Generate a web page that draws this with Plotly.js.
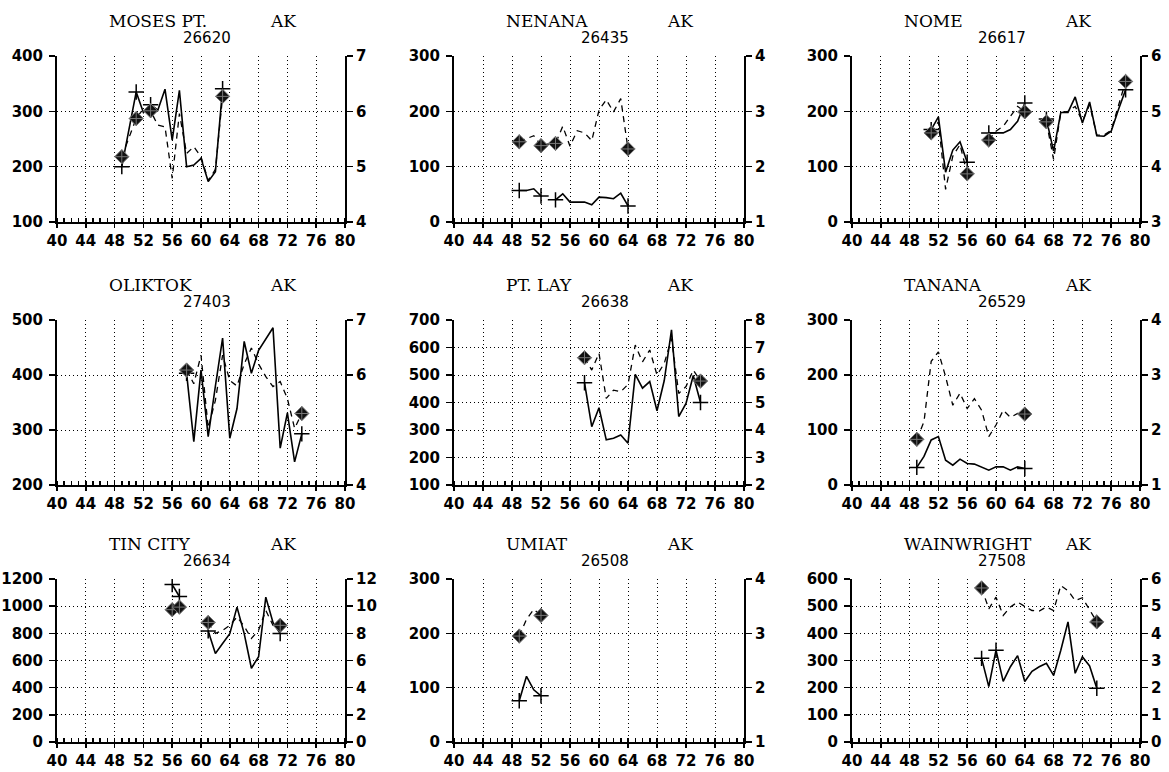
<!DOCTYPE html>
<html>
<head>
<meta charset="utf-8">
<script src="https://cdn.plot.ly/plotly-3.0.1.min.js"></script>
<style>html,body{margin:0;padding:0;background:#fff;}#chart{width:1169px;height:772px;}</style>
</head>
<body>
<div id="chart"></div>
<script>
// ---------- DATA (solid on left axis, dashed on right axis) ----------
const mosesSolidYears = [49,51,52,53,54,55,56,57,58,59,60,61,62,63];
const mosesSolid      = [200,335,298,312,302,340,248,338,200,203,215,173,191,341];
const mosesDashYears  = [49,51,52,53,54,55,56,57,58,59,60,61,62,63];
const mosesDash       = [5.18,5.87,6.05,6.01,5.75,5.72,4.79,5.96,5.24,5.36,5.18,4.75,4.95,6.27];
const mosesPlus = [49,51,53,63];
const mosesDiamond = [49,51,53,63];

const nenanaSolidYears = [49,50,51,52,53,54,55,56,57,58,59,60,61,62,63,64];
const nenanaSolid      = [57,57,60,47,null,40,51,36,36,36,31,45,44,42,52,29];
const nenanaDashYears  = [49,51,52,53,54,55,56,57,58,59,60,61,62,63,64];
const nenanaDash       = [2.45,2.56,2.38,2.41,2.42,2.73,2.37,2.65,2.61,2.47,3.02,3.21,2.99,3.23,2.32];
const nenanaPlus = [49,52,54,64];
const nenanaDiamond = [49,52,54,64];

const nomeSolidYears = [51,52,53,54,55,56,57,59,60,61,62,63,64,65,67,68,69,70,71,72,73,74,75,76,77,78];
const nomeSolid      = [167,190,90,130,145,108,null,161,161,161,167,182,215,null,186,128,198,198,226,179,217,156,155,164,203,239];
const nomeDashYears  = [51,52,53,54,55,56,57,59,60,61,62,63,64,65,67,68,69,70,71,72,73,74,75,76,77,78];
const nomeDash       = [4.61,4.81,3.59,4.19,4.40,3.87,null,4.48,4.64,4.73,4.91,5.09,4.99,null,4.81,4.13,4.98,5.00,5.09,4.82,5.12,4.57,4.57,4.66,5.10,5.54];
const nomePlus = [51,56,59,64,67,78];
const nomeDiamond = [51,56,59,64,67,78];

const oliktokSolidYears = [58,59,60,61,62,63,64,65,66,67,68,69,70,71,72,73,74];
const oliktokSolid      = [403,279,409,288,380,467,285,339,461,403,445,465,486,267,331,242,293];
const oliktokDashYears  = [58,59,60,61,62,63,64,65,66,67,68,69,70,71,72,73,74];
const oliktokDash       = [6.09,5.84,6.36,5.04,5.54,6.36,5.90,5.80,6.20,6.49,6.20,5.97,5.79,5.88,5.57,5.03,5.30];
const oliktokPlus = [58,74];
const oliktokDiamond = [58,74];

const ptlaySolidYears = [58,59,60,61,62,63,64,65,66,67,68,69,70,71,72,73,74];
const ptlaySolid      = [472,312,381,264,270,282,252,502,452,476,370,480,664,349,397,498,400];
const ptlayDashYears  = [58,59,60,61,62,63,64,65,66,67,68,69,70,71,72,73,74];
const ptlayDash       = [6.63,6.18,6.79,5.15,5.45,5.39,5.66,7.09,6.48,6.91,6.00,6.42,7.33,5.33,5.58,6.18,5.78];
const ptlayPlus = [58,74];
const ptlayDiamond = [58,74];

const tananaSolidYears = [49,50,51,52,53,54,55,56,57,58,59,60,61,62,63,64];
const tananaSolid      = [32,52,82,88,45,36,47,39,38,32,27,33,33,27,33,30];
const tananaDashYears  = [49,50,51,52,53,54,55,56,57,58,59,60,61,62,63,64];
const tananaDash       = [1.83,2.15,3.25,3.42,2.97,2.45,2.67,2.39,2.57,2.36,1.88,2.09,2.36,2.23,2.30,2.29];
const tananaPlus = [49,64];
const tananaDiamond = [49,64];

const tincitySolidYears = [56,57,58,61,62,63,64,65,66,67,68,69,70,71];
const tincitySolid      = [1159,1071,null,818,652,725,798,993,798,543,628,1066,880,798];
const tincityDashYears  = [56,57,58,61,62,63,64,65,66,67,68,69,70,71];
const tincityDash       = [9.74,9.93,null,8.80,8.00,8.22,8.59,9.20,8.52,7.62,8.23,9.69,8.59,8.59];
const tincityPlus = [56,57,61,71];
const tincityDiamond = [56,57,61,71];

const umiatSolidYears = [49,50,51,52];
const umiatSolid      = [76,121,96,85];
const umiatDashYears  = [49,50,51,52];
const umiatDash       = [2.95,3.26,3.44,3.33];
const umiatPlus = [49,52];
const umiatDiamond = [49,52];

const wainSolidYears = [58,59,60,61,62,63,64,65,66,67,68,69,70,71,72,73,74];
const wainSolid      = [308,204,338,223,277,318,223,260,277,290,245,338,442,253,314,280,198];
const wainDashYears  = [58,59,60,61,62,63,64,65,66,67,68,69,70,71,72,73,74];
const wainDash       = [5.67,4.90,5.33,4.66,4.97,5.15,4.99,4.84,4.82,4.97,4.84,5.76,5.57,5.21,5.31,4.84,4.42];
const wainPlus = [58,60,74];
const wainDiamond = [58,74];

const stationNames = ["MOSES PT.","NENANA","NOME","OLIKTOK","PT. LAY","TANANA","TIN CITY","UMIAT","WAINWRIGHT"];
const stationIds   = ["26620","26435","26617","27403","26638","26529","26634","26508","27508"];
const stateLabel = "AK";
const leftRanges  = [[100,400],[0,300],[0,300],[200,500],[100,700],[0,300],[0,1200],[0,300],[0,600]];
const leftDticks  = [100,100,100,100,100,100,200,100,100];
const rightRanges = [[4,7],[1,4],[3,6],[4,7],[2,8],[1,4],[0,12],[1,4],[0,6]];
const rightDticks = [1,1,1,1,1,1,2,1,1];
const xTickVals = [40,44,48,52,56,60,64,68,72,76,80];

const series = [
  [mosesSolidYears,mosesSolid,mosesDashYears,mosesDash,mosesPlus,mosesDiamond],
  [nenanaSolidYears,nenanaSolid,nenanaDashYears,nenanaDash,nenanaPlus,nenanaDiamond],
  [nomeSolidYears,nomeSolid,nomeDashYears,nomeDash,nomePlus,nomeDiamond],
  [oliktokSolidYears,oliktokSolid,oliktokDashYears,oliktokDash,oliktokPlus,oliktokDiamond],
  [ptlaySolidYears,ptlaySolid,ptlayDashYears,ptlayDash,ptlayPlus,ptlayDiamond],
  [tananaSolidYears,tananaSolid,tananaDashYears,tananaDash,tananaPlus,tananaDiamond],
  [tincitySolidYears,tincitySolid,tincityDashYears,tincityDash,tincityPlus,tincityDiamond],
  [umiatSolidYears,umiatSolid,umiatDashYears,umiatDash,umiatPlus,umiatDiamond],
  [wainSolidYears,wainSolid,wainDashYears,wainDash,wainPlus,wainDiamond]
];

// ---------- LAYOUT ----------
const W = 1169, H = 772;
const colPx = [[57,345],[454,744],[852,1140]];
const rowPx = [[56,222],[320,485],[579,742]];

const traces = [];
const layout = {
  width: W, height: H,
  margin: {l:0,r:0,t:0,b:0},
  paper_bgcolor: '#fff', plot_bgcolor: 'rgba(0,0,0,0)',
  showlegend: false,
  annotations: []
};

function pick(yrs, vals, sel) {
  const xs = [], ys = [];
  sel.forEach(s => { const i = yrs.indexOf(s); if (i >= 0 && vals[i] !== null) { xs.push(s); ys.push(vals[i]); } });
  return [xs, ys];
}

for (let p = 0; p < 9; p++) {
  const r = Math.floor(p / 3), c = p % 3;
  const [x0, x1] = colPx[c], [y0, y1] = rowPx[r];
  const xn = p === 0 ? '' : String(p + 1);
  const yl = p === 0 ? '' : String(p + 1);
  const yr = String(p + 10);
  const tickFont = {family: 'DejaVu Sans', size: 15, color: '#000', weight: 'bold'};

  layout['xaxis' + xn] = {
    domain: [x0 / W, x1 / W], anchor: 'y' + yl, range: [40, 80],
    tickvals: xTickVals, ticktext: xTickVals.map(String),
    ticks: 'outside', ticklen: 4, tickwidth: 1.5, tickcolor: '#000',
    minor: {dtick: 1, tick0: 40, ticks: 'inside', ticklen: 4, tickwidth: 1.5, tickcolor: '#000', showgrid: false},
    showline: true, linecolor: '#000', linewidth: 2,
    showgrid: true, gridcolor: '#000', gridwidth: 1, griddash: '1px,3px',
    zeroline: false, tickfont: tickFont, fixedrange: true
  };
  const [lr0, lr1] = leftRanges[p];
  layout['yaxis' + yl] = {
    domain: [1 - y1 / H, 1 - y0 / H], anchor: 'x' + xn, range: [lr0, lr1],
    tick0: lr0, dtick: leftDticks[p],
    ticks: 'outside', ticklen: 6, tickwidth: 1.5, tickcolor: '#000', ticklabelstandoff: 3,
    showline: true, linecolor: '#000', linewidth: 2,
    showgrid: true, gridcolor: '#000', gridwidth: 1, griddash: '1px,3px',
    zeroline: false, tickfont: tickFont, fixedrange: true
  };
  const [rr0, rr1] = rightRanges[p];
  layout['yaxis' + yr] = {
    overlaying: 'y' + yl, anchor: 'x' + xn, side: 'right', range: [rr0, rr1],
    tick0: rr0, dtick: rightDticks[p],
    ticks: 'outside', ticklen: 6, tickwidth: 1.5, tickcolor: '#000',
    showline: true, linecolor: '#000', linewidth: 2,
    showgrid: false, zeroline: false, tickfont: tickFont, fixedrange: true
  };

  const [sy, sv, dy, dv, plusSel, diaSel] = series[p];
  traces.push({x: sy, y: sv, xaxis: 'x' + xn, yaxis: 'y' + yl, type: 'scatter', mode: 'lines',
    line: {color: '#000', width: 1.6}, connectgaps: false, hoverinfo: 'skip'});
  traces.push({x: dy, y: dv, xaxis: 'x' + xn, yaxis: 'y' + yr, type: 'scatter', mode: 'lines',
    line: {color: '#000', width: 1.3, dash: '6px,5px'}, connectgaps: false, hoverinfo: 'skip'});
  const [dmx, dmy] = pick(dy, dv, diaSel);
  traces.push({x: dmx, y: dmy, xaxis: 'x' + xn, yaxis: 'y' + yr, type: 'scatter', mode: 'markers',
    marker: {symbol: 'diamond-cross', size: 11, color: '#111', line: {color: '#777', width: 1}}, hoverinfo: 'skip'});
  const [pmx, pmy] = pick(sy, sv, plusSel);
  traces.push({x: pmx, y: pmy, xaxis: 'x' + xn, yaxis: 'y' + yl, type: 'scatter', mode: 'markers',
    marker: {symbol: 'cross-thin-open', size: 11, color: '#000', line: {color: '#000', width: 1.5}}, hoverinfo: 'skip'});

  // titles
  layout.annotations.push({xref: 'paper', yref: 'paper', x: (x0 + 50) / W, y: 1 - (y0 - 35) / H,
    xanchor: 'left', yanchor: 'middle', showarrow: false, text: stationNames[p],
    font: {family: 'DejaVu Serif', size: 17, color: '#000'}});
  layout.annotations.push({xref: 'paper', yref: 'paper', x: (x0 + 211) / W, y: 1 - (y0 - 35) / H,
    xanchor: 'left', yanchor: 'middle', showarrow: false, text: stateLabel,
    font: {family: 'DejaVu Serif', size: 17, color: '#000'}});
  layout.annotations.push({xref: 'paper', yref: 'paper', x: ((x0 + x1) / 2 + 6) / W, y: 1 - (y0 - 18) / H,
    xanchor: 'center', yanchor: 'middle', showarrow: false, text: stationIds[p],
    font: {family: 'DejaVu Sans', size: 15, color: '#000'}});
}

Plotly.newPlot('chart', traces, layout, {staticPlot: true, displayModeBar: false});
</script>
</body>
</html>
